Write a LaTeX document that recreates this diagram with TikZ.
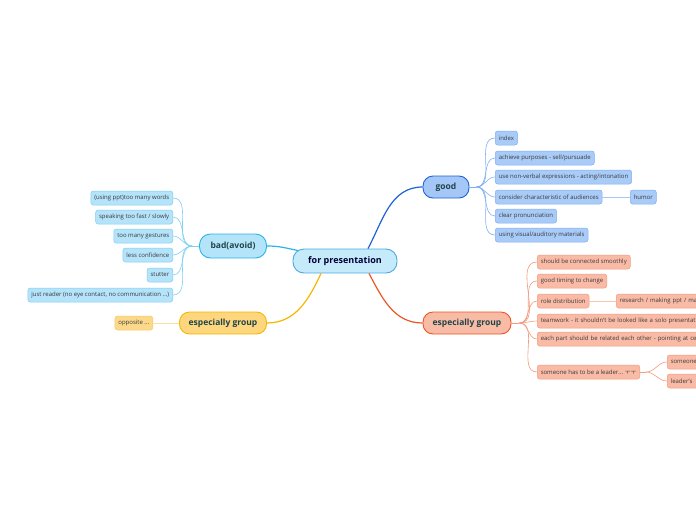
\documentclass[tikz,border=0pt]{standalone}
\usepackage{fontspec}
\setmainfont{Open Sans}
\newfontfamily\krfont{Noto Sans CJK KR}
\usepackage{xcolor}

\definecolor{presfill}{HTML}{C5EBFB}
\definecolor{presdraw}{HTML}{4BA9E0}
\definecolor{goodfill}{HTML}{A5C7F7}
\definecolor{gooddraw}{HTML}{1E63D6}
\definecolor{goodleaf}{HTML}{A9CBF8}
\definecolor{goodedge}{HTML}{80AEF0}
\definecolor{badfill}{HTML}{B4E4FA}
\definecolor{baddraw}{HTML}{2AB3EA}
\definecolor{badleaf}{HTML}{B5E3FA}
\definecolor{badedge}{HTML}{7DD0F2}
\definecolor{yelfill}{HTML}{FDD67E}
\definecolor{yeldraw}{HTML}{F5B700}
\definecolor{yelleaf}{HTML}{FCD98A}
\definecolor{yeledge}{HTML}{F7CB66}
\definecolor{orgfill}{HTML}{F8BBA5}
\definecolor{orgdraw}{HTML}{EE5524}
\definecolor{orgleaf}{HTML}{F9BBA6}
\definecolor{orgedge}{HTML}{F29B7E}
\definecolor{maintext}{HTML}{1F4448}
\definecolor{leaftext}{HTML}{3A3A3A}

\begin{document}
\begin{tikzpicture}[x=1pt,y=-1pt,
    topic/.style={rectangle, rounded corners=10pt, draw, line width=0.9pt, minimum height=22pt,
      inner xsep=6pt, font=\fontsize{8.5}{10}\selectfont\bfseries, text=maintext},
    leaf/.style={rounded corners=2.5pt, draw, line width=0.5pt, minimum height=14pt,
      inner xsep=3.5pt, inner ysep=1pt, font=\fontsize{6}{7}\selectfont, text=leaftext},
    cut/.style={text width=#1, align=left},
    goodbox/.style={leaf, fill=goodleaf, draw=goodedge},
    badbox/.style={leaf, fill=badleaf, draw=badedge},
    yelbox/.style={leaf, fill=yelleaf, draw=yeledge},
    orgbox/.style={leaf, fill=orgleaf, draw=orgedge},
    twig/.style={line width=0.6pt},
    branch/.style={line width=1.2pt}]
    \useasboundingbox (0,0) rectangle (696,520);
    \clip (0,0) rectangle (696,520);

    % central topic
    \node[topic, fill=presfill, draw=presdraw, text=black!80!blue, rounded corners=11pt,
      minimum height=24pt, minimum width=104pt, font=\fontsize{9}{10}\selectfont\bfseries] (pres) at (345,261) {for presentation};

    % main topics
    \node[topic, fill=goodfill, draw=gooddraw, minimum width=46pt] (good) at (446,187) {good};
    \node[topic, fill=badfill, draw=baddraw, rounded corners=11pt, minimum height=24pt, minimum width=67pt] (bad) at (233,246) {bad(avoid)};
    \node[topic, fill=yelfill, draw=yeldraw, minimum width=87pt] (yel) at (223,323) {especially group};
    \node[topic, fill=orgfill, draw=orgdraw, minimum width=88pt] (org) at (467,323) {especially group};

    \draw[branch, draw=gooddraw] ([xshift=23pt]pres.north) to[out=62,in=180] (good.west);
    \draw[branch, draw=baddraw] ([xshift=-47pt,yshift=-2pt]pres.north) to[out=168,in=0] (bad.east);
    \draw[branch, draw=yeldraw] ([xshift=-24pt]pres.south) to[out=-115,in=0] (yel.east);
    \draw[branch, draw=orgdraw] ([xshift=24pt]pres.south) to[out=-62,in=180] (org.west);

    % good
    \node[goodbox, anchor=west] (g1) at (495,138) {index};
    \node[goodbox, anchor=west] (g2) at (495,158) {achieve purposes - sell/pursuade};
    \node[goodbox, anchor=west] (g3) at (495,177) {use non-verbal expressions - acting/intonation};
    \node[goodbox, anchor=west] (g4) at (495,197) {consider characteristic of audiences};
    \node[goodbox, anchor=west] (g5) at (495,216) {clear pronunciation};
    \node[goodbox, anchor=west] (g6) at (495,235) {using visual/auditory materials};
    \node[goodbox, anchor=west] (g41) at (630,197) {humor};
    \coordinate (gf) at ([xshift=7pt]good.east);
    \draw[twig, draw=goodedge] (good.east) -- (gf);
    \foreach \n in {g1,g2,g3,g4,g5,g6}
      \draw[twig, draw=goodedge] (gf) to[out=0,in=180] (\n.west);
    \draw[twig, draw=goodedge!70] (g4.east) -- (g41.west);

    % bad
    \node[badbox, anchor=east] (b1) at (173,198) {(using ppt)too many words};
    \node[badbox, anchor=east] (b2) at (173,217) {speaking too fast / slowly};
    \node[badbox, anchor=east] (b3) at (173,236) {too many gestures};
    \node[badbox, anchor=east] (b4) at (173,255) {less confidence};
    \node[badbox, anchor=east] (b5) at (173,275) {stutter};
    \node[badbox, anchor=east] (b6) at (173,295) {just reader (no eye contact, no communication ...)};
    \coordinate (bf) at ([xshift=-7pt]bad.west);
    \draw[twig, draw=badedge] (bad.west) -- (bf);
    \foreach \n in {b1,b2,b3,b4,b5,b6}
      \draw[twig, draw=badedge] (bf) to[out=180,in=0] (\n.east);

    % especially group (left)
    \node[yelbox, anchor=east] (y1) at (153,323) {opposite ...};
    \draw[twig, draw=yeledge!60] (yel.west) -- (y1.east);

    % especially group (right)
    \node[orgbox, anchor=west] (o1) at (537,262) {should be connected smoothly};
    \node[orgbox, anchor=west] (o2) at (537,281) {good timing to change};
    \node[orgbox, anchor=west] (o3) at (537,301) {role distribution};
    \node[orgbox, anchor=west, cut=200pt] (o4) at (537,321) {teamwork - it shouldn't be looked like a solo presentation};
    \node[orgbox, anchor=west, cut=200pt] (o5) at (537,339) {each part should be related each other - pointing at cert};
    \node[orgbox, anchor=west] (o6) at (537,372) {someone has to be a leader... {\krfont ㅜㅜ}};
    \node[orgbox, anchor=west, cut=100pt] (o31) at (616,301) {research / making ppt / ma};
    \node[orgbox, anchor=west, cut=60pt] (o61) at (667,362) {someone};
    \node[orgbox, anchor=west, cut=60pt] (o62) at (667,381) {leader's};
    \coordinate (of) at ([xshift=8pt]org.east);
    \draw[twig, draw=orgedge] (org.east) -- (of);
    \foreach \n in {o1,o2,o3,o4,o5,o6}
      \draw[twig, draw=orgedge] (of) to[out=0,in=180] (\n.west);
    \draw[twig, draw=orgedge!60] (o3.east) -- (o31.west);
    \coordinate (o6f) at ([xshift=6pt]o6.east);
    \draw[twig, draw=orgedge] (o6.east) -- (o6f);
    \foreach \n in {o61,o62}
      \draw[twig, draw=orgedge] (o6f) to[out=0,in=180] (\n.west);
  \end{tikzpicture}
\end{document}
